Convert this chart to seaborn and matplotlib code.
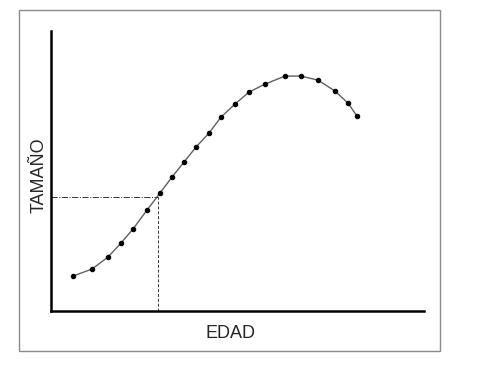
import matplotlib
matplotlib.use("Agg")
import matplotlib.pyplot as plt
import seaborn as sns
import pandas as pd
from matplotlib.patches import Rectangle

# datos (unidades arbitrarias)
edad = [22, 41, 57, 70, 82, 96, 109, 121, 133, 145, 158, 170, 184, 198, 214, 234, 250, 267, 284, 297, 306]
tamano = [35, 42, 54, 68, 82, 101, 118, 134, 149, 164, 178, 194, 207, 219, 227, 235, 235, 231, 220, 208, 195]
ref_edad = 107
ref_tamano = 114

sns.set_style("white")
plt.rcParams['font.family'] = ['Liberation Sans', 'DejaVu Sans']

df = pd.DataFrame({'EDAD': edad, 'TAMAÑO': tamano})

fig = plt.figure(figsize=(5, 3.84), dpi=100)
ax = fig.add_axes([0.102, 0.19, 0.746, 0.729])

sns.lineplot(data=df, x='EDAD', y='TAMAÑO', ax=ax, color='#606060', linewidth=1.0,
             marker='o', markersize=3.2, markerfacecolor='black', markeredgecolor='black')

# lineas de referencia
ax.plot([0, ref_edad], [ref_tamano, ref_tamano], color='#333333', linewidth=0.7, linestyle='-.')
ax.plot([ref_edad, ref_edad], [0, ref_tamano], color='#333333', linewidth=0.7, linestyle=(0, (3, 2)))

ax.set_xlim(0, 373)
ax.set_ylim(0, 280)
ax.set_xticks([])
ax.set_yticks([])
ax.spines['top'].set_visible(False)
ax.spines['right'].set_visible(False)
ax.spines['left'].set_linewidth(1.8)
ax.spines['bottom'].set_linewidth(1.8)
ax.spines['left'].set_color('black')
ax.spines['bottom'].set_color('black')
ax.set_xlabel('EDAD', fontsize=13)
ax.xaxis.set_label_coords(0.481, -0.05, transform=ax.transAxes)
ax.xaxis.label.set_va('top')
ax.set_ylabel('TAMAÑO', fontsize=13)
ax.yaxis.set_label_coords(-0.009, 0.485, transform=ax.transAxes)
ax.yaxis.label.set_va('bottom')

# marco exterior
fig.patches.append(Rectangle((19/500, 33/384), 421/500, 341/384, transform=fig.transFigure,
                             fill=False, edgecolor='#8a8a8a', linewidth=1.0))

fig.savefig('out.png', dpi=100)
